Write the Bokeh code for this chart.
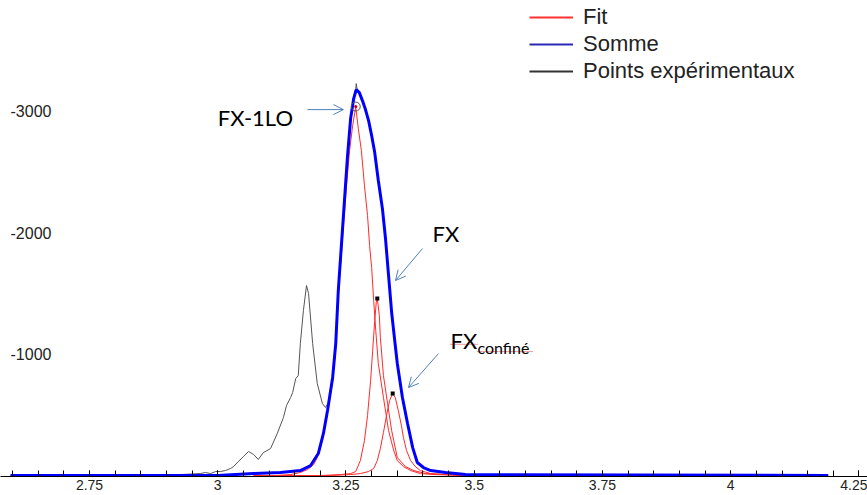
from bokeh.plotting import figure
from bokeh.models import Range1d, FixedTicker, Legend, LegendItem, Label, Arrow, OpenHead
from bokeh.core.properties import value
from bokeh.embed import file_html
from bokeh.resources import INLINE

# ---------------- data (energy in eV, signal values as read) ----------------
sum_x = [2.596, 3.000, 3.070, 3.122, 3.161, 3.181, 3.196, 3.206, 3.214, 3.224,
         3.230, 3.235, 3.241, 3.247, 3.253, 3.259, 3.265, 3.270, 3.276, 3.282,
         3.288, 3.294, 3.300, 3.306, 3.313, 3.321, 3.327, 3.333, 3.339, 3.345,
         3.350, 3.360, 3.370, 3.380, 3.389, 3.401, 3.415, 3.444, 3.483, 4.190]
sum_y = [0, 0, -16, -25, -41, -82, -181, -346, -535, -807,
         -1086, -1523, -1893, -2263, -2634, -2938, -3103, -3177, -3152, -3086,
         -3012, -2922, -2798, -2658, -2428, -2197, -1951, -1646, -1341, -1111,
         -922, -642, -428, -230, -107, -66, -41, -25, -8, 0]

fit1_x = [3.070, 3.113, 3.142, 3.161, 3.175, 3.187, 3.194, 3.204, 3.214, 3.224,
          3.230, 3.233, 3.237, 3.241, 3.245, 3.251, 3.257, 3.263, 3.269, 3.274,
          3.280, 3.286, 3.292, 3.296, 3.300, 3.304, 3.308, 3.313, 3.323, 3.333,
          3.343, 3.350, 3.362, 3.376, 3.395, 3.424, 3.483]
fit1_y = [0, 0, -8, -25, -49, -91, -148, -288, -518, -782,
          -1045, -1358, -1605, -1811, -2058, -2387, -2675, -2881, -3037, -2856,
          -2675, -2387, -2140, -1893, -1712, -1440, -1193, -922, -642, -370,
          -206, -123, -74, -41, -16, -8, 0]

fit2_x = [3.070, 3.200, 3.239, 3.259, 3.269, 3.278, 3.286, 3.292, 3.298, 3.302,
          3.306, 3.309, 3.311, 3.315, 3.317, 3.323, 3.331, 3.339, 3.350, 3.366,
          3.382, 3.405, 3.444, 3.483]
fit2_y = [0, 0, -8, -16, -33, -123, -288, -494, -782, -1029,
          -1276, -1424, -1457, -1317, -1136, -823, -593, -370, -148, -74,
          -41, -16, -8, 0]

fit3_x = [3.070, 3.220, 3.259, 3.278, 3.294, 3.304, 3.311, 3.317, 3.323, 3.329,
          3.335, 3.341, 3.346, 3.352, 3.358, 3.362, 3.368, 3.376, 3.385, 3.395,
          3.415, 3.444, 3.483]
fit3_y = [0, 0, -8, -16, -33, -58, -123, -222, -354, -494,
          -617, -675, -642, -535, -412, -313, -206, -123, -74, -41,
          -16, -8, 0]

exp_x = [2.596, 2.869, 2.927, 2.966, 2.976, 2.986, 2.996, 3.005, 3.015, 3.025,
         3.031, 3.040, 3.050, 3.060, 3.070, 3.079, 3.089, 3.103, 3.116, 3.128,
         3.134, 3.142, 3.146, 3.152, 3.157, 3.161, 3.167, 3.173, 3.177, 3.185,
         3.194, 3.204, 3.210, 3.216, 3.222, 3.226, 3.230, 3.235, 3.241, 3.247,
         3.253, 3.259, 3.265, 3.269, 3.270, 3.272, 3.276, 3.282, 3.288, 3.294,
         3.300, 3.306, 3.313, 3.321, 3.327, 3.333, 3.339, 3.345, 3.350, 3.360,
         3.370, 3.380, 3.389, 3.401, 3.415, 3.444, 3.483, 4.190]
exp_y = [0, 0, -8, -16, -25, -16, -33, -33, -41, -58,
         -74, -115, -156, -198, -173, -132, -189, -222, -346, -477,
         -576, -642, -683, -798, -823, -1086, -1358, -1564, -1498, -1086,
         -757, -593, -560, -601, -741, -905, -1086, -1523, -1893, -2263,
         -2634, -2938, -3119, -3185, -3226, -3169, -3152, -3086, -3012, -2922,
         -2798, -2658, -2428, -2197, -1951, -1646, -1341, -1111, -922, -642,
         -428, -230, -107, -66, -41, -25, -8, 0]

xticks = [2.75, 3.0, 3.25, 3.5, 3.75, 4.0, 4.25]
xtick_labels = ["2.75", "3", "3.25", "3.5", "3.75", "4", "4.25"]
xminor = [2.6, 2.65, 2.7, 2.75, 2.8, 2.85, 2.9, 2.95, 3.0, 3.05, 3.1, 3.15,
          3.2, 3.25, 3.3, 3.35, 3.4, 3.45, 3.5, 3.55, 3.6, 3.65, 3.7, 3.75,
          3.8, 3.85, 3.9, 3.95, 4.0, 4.05, 4.1, 4.15, 4.2, 4.25]
yticks = [-1000, -2000, -3000]
ytick_labels = ["-1000", "-2000", "-3000"]

legend_labels = ["Fit", "Somme", "Points expérimentaux"]

# ---------------- figure ----------------
p = figure(width=867, height=495,
           x_range=Range1d(2.5765, 4.2666), y_range=Range1d(8, -3910),
           output_backend="svg", toolbar_location=None, y_axis_location=None,
           min_border_left=0, min_border_right=0, min_border_top=0,
           min_border_bottom=19)
p.grid.visible = False
p.outline_line_color = None
p.background_fill_color = "white"
p.border_fill_color = "white"

RED = "#ff2a2a"
BLUE = "#0000ff"
BLACK = "#555555"
ARROW = "#4f81bd"

r_exp = p.line(exp_x, exp_y, line_color=BLACK, line_width=1)
r_fit1 = p.line(fit1_x, fit1_y, line_color=RED, line_width=1)
r_fit2 = p.line(fit2_x, fit2_y, line_color=RED, line_width=1)
r_fit3 = p.line(fit3_x, fit3_y, line_color=RED, line_width=1)
r_sum = p.line(sum_x, sum_y, line_color=BLUE, line_width=3)

# legend swatches (as in the original legend: medium-weight lines);
# a single NaN point draws nothing in the plot but keeps the legend glyph
nan = float("nan")
lg_fit = p.line([nan], [nan], line_color="#ff3030", line_width=2)
lg_sum = p.line([nan], [nan], line_color="#2a2ab8", line_width=2)
lg_exp = p.line([nan], [nan], line_color="#333333", line_width=2)

# peak markers on fits (taken from the fit arrays)
def peak(xs, ys):
    i = min(range(len(ys)), key=lambda k: ys[k])
    return xs[i], ys[i]

p1 = peak(fit1_x, fit1_y)
p2 = peak(fit2_x, fit2_y)
p3 = peak(fit3_x, fit3_y)
p.scatter([p1[0]], [p1[1]], marker="circle", size=9, fill_color=None,
          line_color="#555555", line_width=1)
p.scatter([p1[0]], [p1[1]], marker="circle", size=3, fill_color="#cc0000",
          line_color=None)
p.scatter([p2[0], p3[0]], [p2[1], p3[1]], marker="square", size=4,
          fill_color="black", line_color=None)

# y tick labels drawn inside the plot area, as in the original
p.text(x=[2.596] * len(yticks), y=yticks, text=ytick_labels,
       text_font=value("Liberation Sans"), text_font_size=value("16px"),
       text_color="#222222", text_align="left", text_baseline="middle")

# x axis
xax = p.xaxis[0]
xax.ticker = FixedTicker(ticks=xticks, minor_ticks=xminor)
xax.major_label_overrides = dict(zip(xticks, xtick_labels))
xax.axis_line_color = "black"
xax.axis_line_width = 1
xax.major_tick_in = 6
xax.major_tick_out = 0
xax.minor_tick_in = 6
xax.minor_tick_out = 0
xax.major_tick_line_color = "black"
xax.minor_tick_line_color = "black"
xax.major_label_standoff = 3
xax.major_label_text_font = "Liberation Sans"
xax.major_label_text_font_size = "14px"
xax.major_label_text_color = "#222222"

# legend
legend = Legend(items=[LegendItem(label=legend_labels[0], renderers=[lg_fit]),
                       LegendItem(label=legend_labels[1], renderers=[lg_sum]),
                       LegendItem(label=legend_labels[2], renderers=[lg_exp])],
                location=(529, 391.5), padding=0, margin=0, spacing=0,
                border_line_color=None, background_fill_alpha=0,
                glyph_width=44, glyph_height=20, label_height=27,
                label_standoff=10, label_text_font="Liberation Sans",
                label_text_font_size="22px", label_text_color="#222222")
p.add_layout(legend)

# annotations
def txt(x, y, s, size):
    p.add_layout(Label(x=x, y=y, text=s, text_font="Lato", text_font_size=size,
                       text_color="black", text_align="left",
                       text_baseline="alphabetic"))

txt(3.000, -2946, "FX-1LO", "22px")
txt(3.4186, -1992, "FX", "22px")
txt(3.4537, -1111, "FX", "22px")
txt(3.5063, -1053, "confiné", "16px")

p.segment(x0=[3.4537, 3.5063], y0=[-1080, -1020], x1=[3.5063, 3.6155], y1=[-1080, -1020],
          line_color="#e03030", line_width=1, line_dash="1 1")

for xs, ys, xe, ye in [(3.175, -3012, 3.245, -3012),
                       (3.399, -1868, 3.3465, -1605),
                       (3.4303, -1004, 3.3718, -724)]:
    p.add_layout(Arrow(end=OpenHead(size=10, line_color=ARROW, line_width=1),
                       x_start=xs, y_start=ys, x_end=xe, y_end=ye,
                       line_color=ARROW, line_width=1))

open("out.html", "w").write(file_html(p, INLINE))
